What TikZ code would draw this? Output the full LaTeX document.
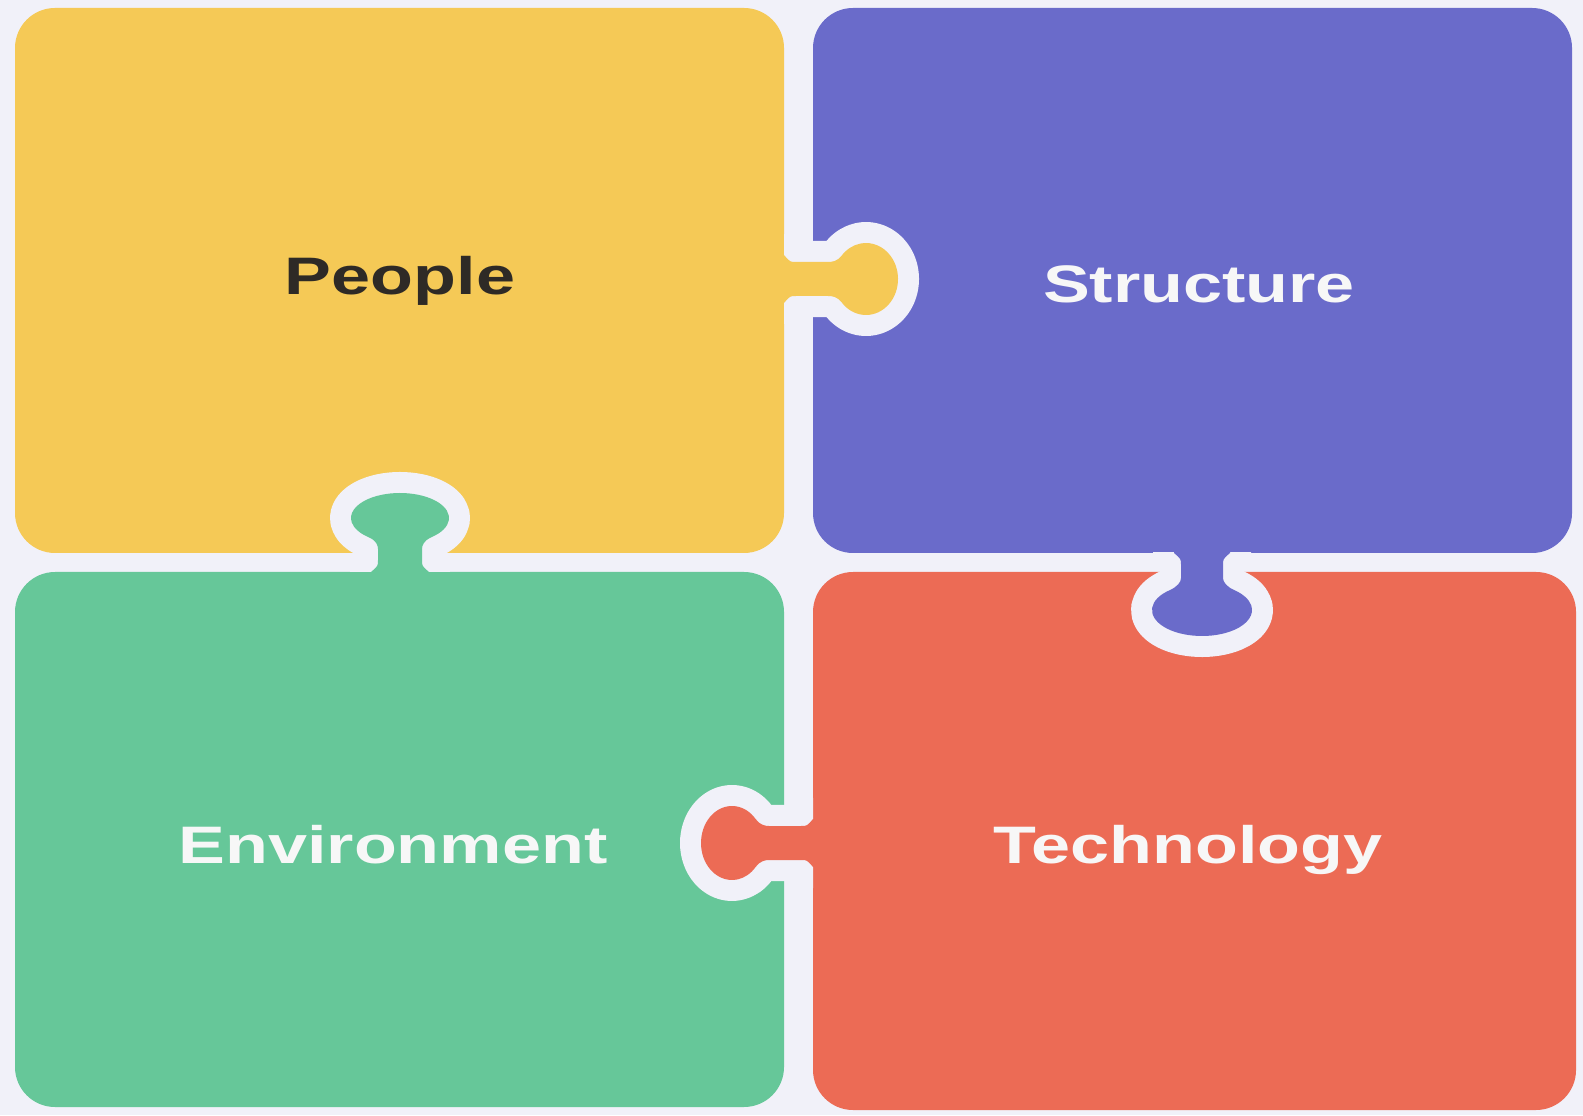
\documentclass[tikz,border=0pt]{standalone}
\usepackage{fontspec}
\setmainfont{Liberation Sans}
\newfontfamily\puzzlefont[FakeStretch=1.33]{Liberation Sans}
\usepackage{tikz}

\definecolor{pagebg}{HTML}{F1F1F9}
\definecolor{peoplecol}{HTML}{F5C956}
\definecolor{structcol}{HTML}{6A6BCA}
\definecolor{envcol}{HTML}{66C799}
\definecolor{techcol}{HTML}{EC6B55}
\definecolor{darktext}{HTML}{2E2A26}
\definecolor{lighttext}{HTML}{F7F7F7}

\begin{document}
\begin{tikzpicture}[x=0.01cm, y=0.01cm,
    piece/.style = {rounded corners=0.4cm},
    gap/.style = {draw=pagebg, line width=0.42cm, line join=round},
    label/.style = {font=\puzzlefont\fontsize{15}{17}\selectfont\bfseries, anchor=base}]
                \useasboundingbox (0,0) rectangle (1583,1115);
                \fill[pagebg] (0,0) rectangle (1583,1115);
                % the four pieces
                \fill[piece, peoplecol] (15,562) rectangle (784,1107);
                \fill[piece, structcol] (813,562) rectangle (1572,1107);
                \fill[piece, envcol] (15,8) rectangle (784,543);
                \fill[piece, techcol] (813,5) rectangle (1576,543);
                % tabs: knob centre, direction, colour, neck length, radii, neck
                \foreach \cx/\cy/\rot/\col/\d/\a/\b/\n in {866/836/0/peoplecol/82/32/36/17,
                    400/597/90/envcol/54/25/49/22, 1202/505/-90/structcol/57/26/50/21,
                    732/272/180/techcol/81/31/37/17} {
                    \begin{scope}[shift={(\cx,\cy)}, rotate=\rot]
                        \begin{scope}
                            \clip (-\d,-200) rectangle (200,200);
                            \draw[gap] (-\d-15,-\n-7) -- (-\d,-\n-7)
                                .. controls (-\d+6,-\n) .. (-\d+12,-\n) -- (-\a-6,-\n)
                                .. controls (-\a-2,-\n) and (-0.9*\a,-0.49*\b) .. (220:{\a} and {\b})
                                arc[start angle=220, end angle=500, x radius=\a, y radius=\b]
                                .. controls (-0.9*\a,0.49*\b) and (-\a-2,\n) .. (-\a-6,\n)
                                -- (-\d+12,\n) .. controls (-\d+6,\n) .. (-\d,\n+7)
                                -- (-\d-15,\n+7) -- cycle;
                        \end{scope}
                        \fill[\col] (-\d-15,-\n-7) -- (-\d,-\n-7)
                            .. controls (-\d+6,-\n) .. (-\d+12,-\n) -- (-\a-6,-\n)
                            .. controls (-\a-2,-\n) and (-0.9*\a,-0.49*\b) .. (220:{\a} and {\b})
                            arc[start angle=220, end angle=500, x radius=\a, y radius=\b]
                            .. controls (-0.9*\a,0.49*\b) and (-\a-2,\n) .. (-\a-6,\n)
                            -- (-\d+12,\n) .. controls (-\d+6,\n) .. (-\d,\n+7)
                            -- (-\d-15,\n+7) -- cycle;
                    \end{scope}
                }
                % labels
                \node[label, text=darktext] (people) at (400,820) {People};
                \node[label, text=lighttext] (structure) at (1199,812) {Structure};
                \node[label, text=lighttext] (environment) at (393,252) {Environment};
                \node[label, text=lighttext] (technology) at (1188,252) {Technology};
            \end{tikzpicture}
\end{document}
